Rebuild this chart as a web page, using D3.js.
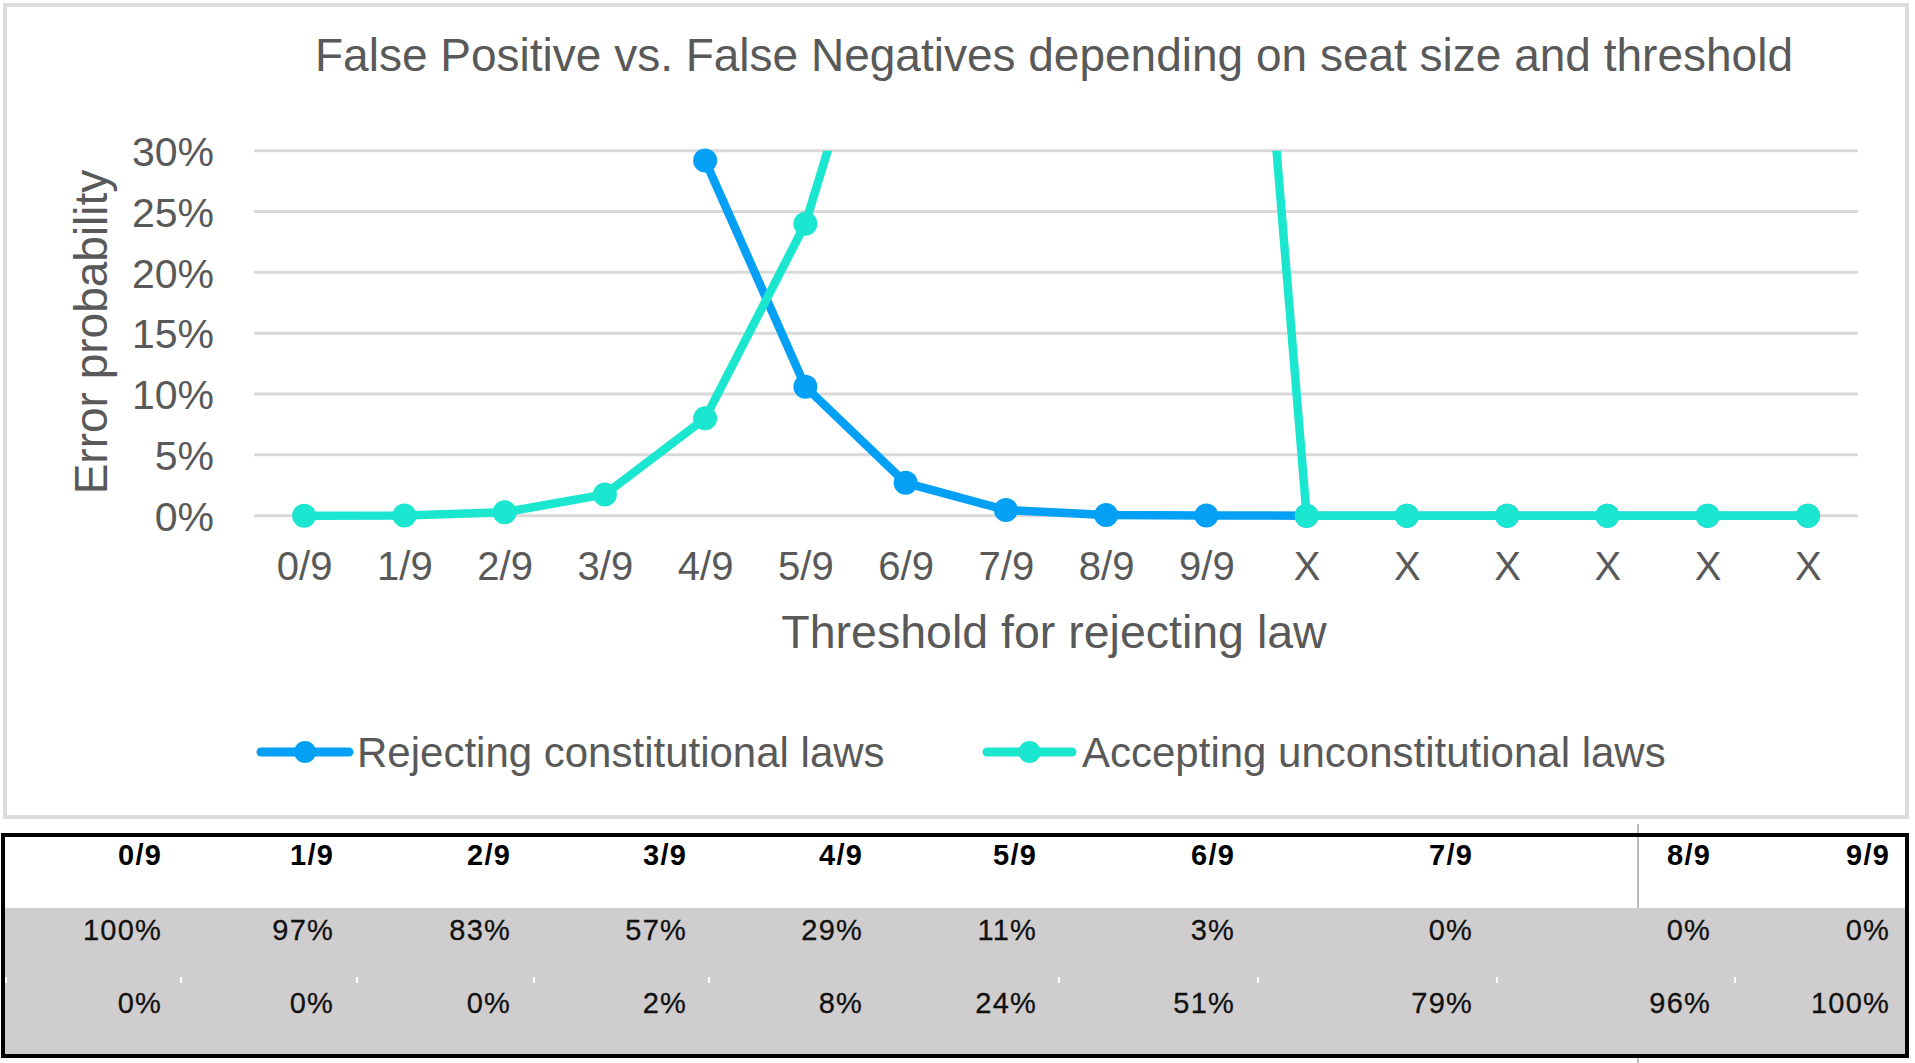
<!DOCTYPE html>
<html><head><meta charset="utf-8">
<script src="https://cdn.jsdelivr.net/npm/d3@7"></script>
<style>body{margin:0;background:#fff;overflow:hidden}</style>
</head><body><svg id="c" width="1915" height="1063"></svg>
<script>
// ---- data ----
const categories = ["0/9","1/9","2/9","3/9","4/9","5/9","6/9","7/9","8/9","9/9","X","X","X","X","X","X"];
const rejectingConstitutional = [1.00,0.97,0.83,0.57,0.292,0.106,0.027,0.0047,0.0006,0.0002,0,0,0,0,0,0];
const acceptingUnconstitutional = [0,0.0002,0.0028,0.0175,0.080,0.240,0.51,0.79,0.96,1.00,0,0,0,0,0,0];
const yTicks = [0,0.05,0.10,0.15,0.20,0.25,0.30];
const seriesNames = ["Rejecting constitutional laws","Accepting unconstitutional laws"];
const chartTitle = "False Positive vs. False Negatives depending on seat size and threshold";
const xTitle = "Threshold for rejecting law";
const yTitle = "Error probability";
const tableHeaders = ["0/9","1/9","2/9","3/9","4/9","5/9","6/9","7/9","8/9","9/9"];
const tableRejecting = ["100%","97%","83%","57%","29%","11%","3%","0%","0%","0%"];
const tableAccepting = ["0%","0%","0%","2%","8%","24%","51%","79%","96%","100%"];

// ---- layout ----
const colors = ["#03a0f6","#1be6cf"];
const textGrey = "#595959";
const font = "'Liberation Sans', Arial, Helvetica, sans-serif";
const plot = {left:254, right:1858, top:150.7, bottom:515.7};
const tableColRight = [162,334,511,687,863,1037,1235,1473,1711,1890];
const tableSepMarks = [6,181,357,534,709,1059,1258,1497,1735];

const svg = d3.select("#c");
svg.append("rect").attr("width",1915).attr("height",1063).attr("fill","#fff");

// chart frame
svg.append("rect").attr("x",5).attr("y",5).attr("width",1902).attr("height",812)
  .attr("fill","#fff").attr("stroke","#dcdcdc").attr("stroke-width",4);

const x = d3.scalePoint().domain(d3.range(categories.length)).range([plot.left, plot.right]).padding(0.5);
const y = d3.scaleLinear().domain([0,0.30]).range([plot.bottom, plot.top]);

// title
svg.append("text").attr("x",1054).attr("y",71).attr("text-anchor","middle")
  .attr("font-family",font).attr("font-size",46).attr("fill",textGrey).text(chartTitle);

// gridlines
svg.append("g").selectAll("line").data(yTicks).join("line")
  .attr("x1",plot.left).attr("x2",plot.right)
  .attr("y1",d=>y(d)).attr("y2",d=>y(d))
  .attr("stroke","#d9d9d9").attr("stroke-width",3);

// y axis labels
const yAxis = d3.axisLeft(y).tickValues(yTicks).tickFormat(d3.format(".0%")).tickSize(0).tickPadding(0);
const gy = svg.append("g").attr("transform","translate(214,0)").call(yAxis);
gy.select(".domain").remove();
gy.selectAll("text").attr("font-family",font).attr("font-size",41).attr("fill",textGrey).attr("dy","0.36em");

// x axis labels
const xAxis = d3.axisBottom(x).tickFormat(i=>categories[i]).tickSize(0).tickPadding(0);
const gx = svg.append("g").attr("transform","translate(0,552)").call(xAxis);
gx.select(".domain").remove();
gx.selectAll("text").attr("font-family",font).attr("font-size",40).attr("fill",textGrey).attr("dy","0.71em");

// axis titles
svg.append("text").attr("x",1054).attr("y",648).attr("text-anchor","middle")
  .attr("font-family",font).attr("font-size",46.5).attr("fill",textGrey).text(xTitle);
svg.append("text").attr("transform","translate(107,332) rotate(-90)").attr("text-anchor","middle")
  .attr("font-family",font).attr("font-size",46).attr("fill",textGrey).text(yTitle);

// clip
svg.append("clipPath").attr("id","plotclip").append("rect")
  .attr("x",plot.left-20).attr("y",plot.top).attr("width",plot.right-plot.left+40).attr("height",plot.bottom-plot.top+40);

const line = d3.line().x((d,i)=>x(i)).y(d=>y(d));
const series = [rejectingConstitutional, acceptingUnconstitutional];
series.forEach((vals,si)=>{
  const g = svg.append("g");
  g.append("path").datum(vals).attr("d",line).attr("fill","none")
    .attr("stroke",colors[si]).attr("stroke-width",8.5).attr("stroke-linejoin","round")
    .attr("clip-path","url(#plotclip)");
  g.selectAll("circle").data(vals.map((v,i)=>({v,i})).filter(d=>d.v<=0.30)).join("circle")
    .attr("cx",d=>x(d.i)).attr("cy",d=>y(d.v)).attr("r",12).attr("fill",colors[si]);
});

// legend
const legendItems = [{x0:256,x1:354,tx:357},{x0:982,x1:1077,tx:1082}];
legendItems.forEach((L,si)=>{
  const ly = 752;
  svg.append("line").attr("x1",L.x0+5).attr("x2",L.x1-5).attr("y1",ly).attr("y2",ly)
    .attr("stroke",colors[si]).attr("stroke-width",9).attr("stroke-linecap","round");
  svg.append("circle").attr("cx",(L.x0+L.x1)/2).attr("cy",ly).attr("r",11).attr("fill",colors[si]);
  svg.append("text").attr("x",L.tx).attr("y",ly).attr("dy","0.36em")
    .attr("font-family",font).attr("font-size",42).attr("fill",textGrey).text(seriesNames[si]);
});

// table
svg.append("rect").attr("x",4).attr("y",908).attr("width",1903).attr("height",146).attr("fill","#cfcdce");
svg.append("line").attr("x1",1638).attr("x2",1638).attr("y1",824).attr("y2",908).attr("stroke","#bdbdbd").attr("stroke-width",2);
svg.append("line").attr("x1",1638).attr("x2",1638).attr("y1",1056).attr("y2",1063).attr("stroke","#bdbdbd").attr("stroke-width",2);
svg.append("g").selectAll("rect").data(tableSepMarks).join("rect")
  .attr("x",d=>d-1).attr("y",977).attr("width",2).attr("height",6).attr("fill","#fff");
svg.append("rect").attr("x",3).attr("y",835).attr("width",1904).attr("height",221)
  .attr("fill","none").attr("stroke","#000").attr("stroke-width",4);

const rows = [
  {vals:tableHeaders, y:865, bold:true, fill:"#000"},
  {vals:tableRejecting, y:940, bold:false, fill:"#111"},
  {vals:tableAccepting, y:1013, bold:false, fill:"#111"}
];
rows.forEach(r=>{
  svg.append("g").selectAll("text").data(r.vals).join("text")
    .attr("x",(d,i)=>tableColRight[i]).attr("y",r.y).attr("text-anchor","end")
    .attr("font-family",font).attr("font-size",29).attr("letter-spacing",1.2)
    .attr("stroke",r.fill).attr("stroke-width",r.bold?0:0.3)
    .attr("font-weight",r.bold?"bold":"normal").attr("fill",r.fill).text(d=>d);
});
</script></body></html>
